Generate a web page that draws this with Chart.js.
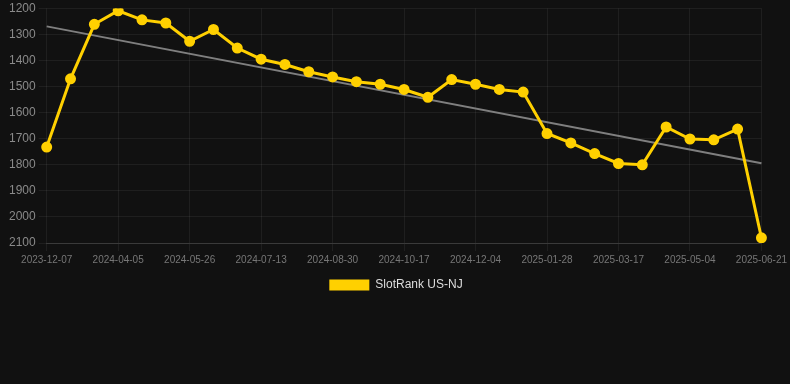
<!DOCTYPE html>
<html>
<head>
<meta charset="utf-8">
<script src="https://cdn.jsdelivr.net/npm/chart.js@4.4.0/dist/chart.umd.min.js"></script>
<style>
  html, body { margin: 0; padding: 0; background: #111111; }
  #wrap { width: 790px; height: 301px; position: relative; }
</style>
</head>
<body>
<div id="wrap"><canvas id="grafico"></canvas></div>
<script>
const dates = [
  "2023-12-07", "2024-02-20", "2024-03-19", "2024-04-05", "2024-04-22", "2024-05-09",
  "2024-05-26", "2024-06-11", "2024-06-27", "2024-07-13", "2024-07-29", "2024-08-14",
  "2024-08-30", "2024-09-15", "2024-10-01", "2024-10-17", "2024-11-02", "2024-11-18",
  "2024-12-04", "2024-12-22", "2025-01-09", "2025-01-28", "2025-02-13", "2025-03-01",
  "2025-03-17", "2025-04-02", "2025-04-18", "2025-05-04", "2025-05-20", "2025-06-05",
  "2025-06-21"
];
const ranks = [
  1732, 1470, 1261, 1209, 1244, 1256,
  1326, 1281, 1352, 1395, 1415, 1443,
  1463, 1481, 1491, 1511, 1541, 1473,
  1491, 1511, 1521, 1680, 1716, 1757,
  1795, 1800, 1655, 1701, 1704, 1663,
  2080
];
const trendStart = 1269;
const trendEnd = 1794;
const yTicks = [1200, 2100, 100]; // min, max, step

document.addEventListener("DOMContentLoaded", function () {
    const ctx = document.getElementById("grafico").getContext("2d");
    const grid = "rgba(255,255,255,0.06)";
    const fontFam = "Arial, 'Liberation Sans', sans-serif";

    new Chart(ctx, {
        type: "line",
        data: {
            labels: dates,
            datasets: [{
                label: "SlotRank US-NJ",
                data: ranks,
                borderColor: "#ffd000",
                backgroundColor: "#ffd000",
                borderWidth: 3,
                pointRadius: 4,
                pointHoverRadius: 5,
                tension: 0,
                order: 1
            }, {
                label: "trend",
                data: [
                    { x: dates[0], y: trendStart },
                    { x: dates[dates.length - 1], y: trendEnd }
                ],
                borderColor: "rgba(140,140,140,0.9)",
                borderWidth: 2,
                pointRadius: 0,
                order: 2
            }]
        },
        options: {
            responsive: true,
            maintainAspectRatio: false,
            animation: false,
            layout: { padding: { left: 6, right: 4, top: 0, bottom: 0 } },
            plugins: {
                legend: {
                    position: "bottom",
                    labels: {
                        color: "#dddddd",
                        font: { family: fontFam, size: 12 },
                        boxWidth: 40,
                        boxHeight: 11,
                        generateLabels: function (chart) {
                            return Chart.defaults.plugins.legend.labels.generateLabels(chart)
                                .filter(item => item.text !== "trend")
                                .map(item => Object.assign(item, { lineWidth: 0 }));
                        }
                    }
                },
                tooltip: { enabled: true }
            },
            scales: {
                x: {
                    ticks: {
                        color: "#777777",
                        font: { family: fontFam, size: 10 },
                        autoSkip: false,
                        maxRotation: 0,
                        callback: function (val, i) {
                            return i % 3 === 0 ? this.getLabelForValue(val) : null;
                        }
                    },
                    grid: { color: grid },
                    border: { color: "rgba(255,255,255,0.12)" }
                },
                y: {
                    reverse: true,
                    min: yTicks[0],
                    max: yTicks[1],
                    ticks: {
                        stepSize: yTicks[2],
                        color: "#8a8a8a",
                        font: { family: fontFam, size: 12, lineHeight: 0.9 },
                        callback: v => String(v)
                    },
                    grid: { color: grid },
                    border: { display: false }
                }
            }
        }
    });
});
</script>
</body>
</html>
